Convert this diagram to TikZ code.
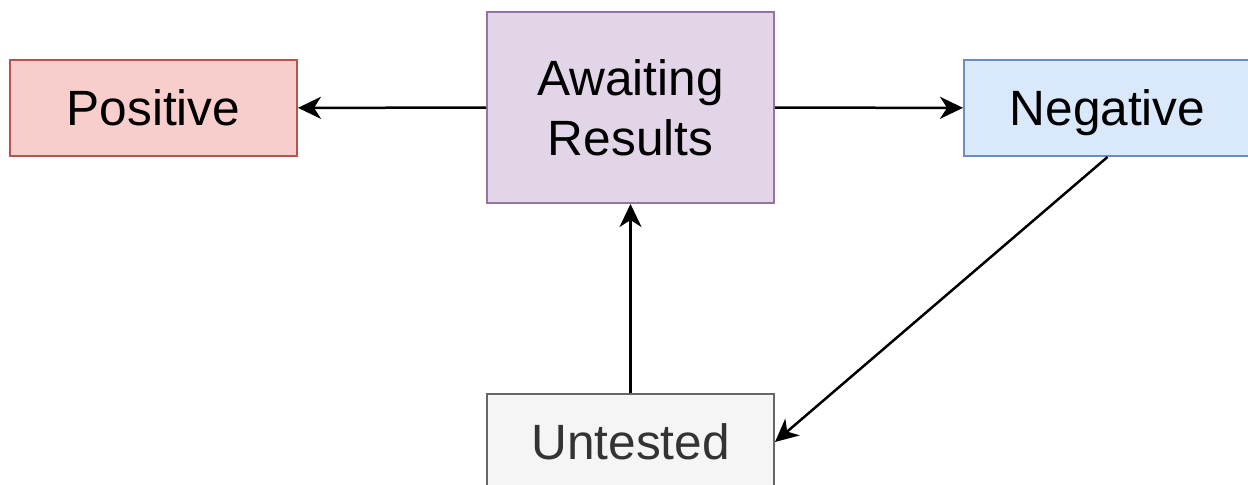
\documentclass[tikz,border=0pt]{standalone}
\usepackage{fontspec}
\setmainfont{Liberation Sans}
\usetikzlibrary{arrows.meta,positioning}
\definecolor{posfill}{HTML}{F8CECC}
\definecolor{posdraw}{HTML}{B85450}
\definecolor{awfill}{HTML}{E1D5E7}
\definecolor{awdraw}{HTML}{9673A6}
\definecolor{negfill}{HTML}{DAE8FC}
\definecolor{negdraw}{HTML}{6C8EBF}
\definecolor{untfill}{HTML}{F5F5F5}
\definecolor{untdraw}{HTML}{666666}
\definecolor{unttext}{HTML}{333333}

\begin{document}
\begin{tikzpicture}[x=0.5pt, y=-0.5pt,
	state/.style={draw, line width=1pt, rectangle, minimum width=143.5pt,
	minimum height=48pt, align=center, inner sep=0pt,
	font=\fontsize{24.8}{30}\selectfont},
	trans/.style={line width=1.25pt, -{Stealth[length=11.5pt, width=11pt, inset=3.5pt]}}]
\useasboundingbox (0,0) rectangle (1248,485);
\node[state, fill=posfill, draw=posdraw] (pos) at (153.5, 108) {Positive};
\node[state, fill=awfill, draw=awdraw, minimum height=95.5pt] (await) at (630.5, 107.5) {Awaiting\\Results};
\node[state, fill=negfill, draw=negdraw, text depth=0pt] (neg) at (1107.5, 108) {Negative};
\node[state, fill=untfill, draw=untdraw, text=unttext] (unt) at (630.5, 442) {Untested};
\draw[trans] (await) to (pos);
\draw[trans] (await) to (neg);
\draw[trans] (unt) to (await);
\draw[trans] (neg.south) to (unt.east);
\end{tikzpicture}
\end{document}
